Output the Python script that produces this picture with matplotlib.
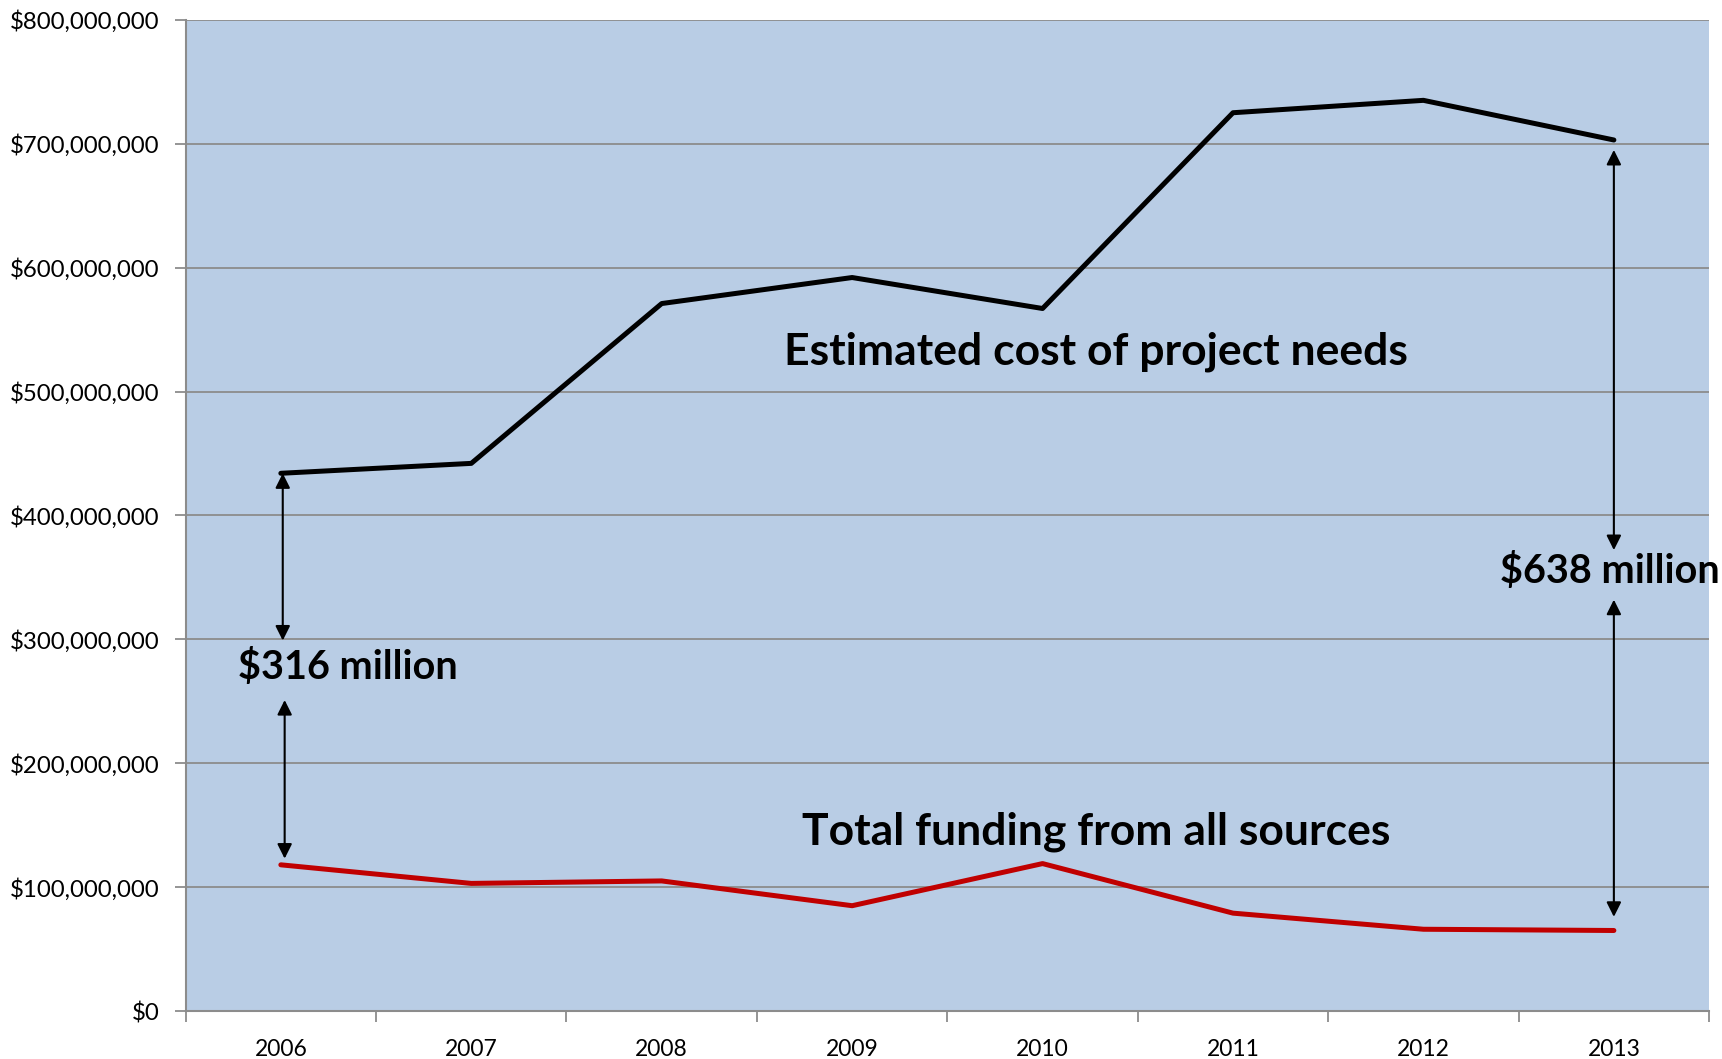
import matplotlib
matplotlib.use("Agg")
import matplotlib.pyplot as plt
from matplotlib.ticker import FuncFormatter

years = ["2006", "2007", "2008", "2009", "2010", "2011", "2012", "2013"]
project_needs = [434e6, 442e6, 571e6, 592e6, 567e6, 725e6, 735e6, 703e6]
total_funding = [118e6, 103e6, 105e6, 85e6, 119e6, 79e6, 66e6, 65e6]
y_ticks = [0, 100e6, 200e6, 300e6, 400e6, 500e6, 600e6, 700e6, 800e6]

plt.rcParams['font.family'] = ['Lato', 'DejaVu Sans']

fig = plt.figure(figsize=(17.22, 10.59), dpi=100)
ax = fig.add_axes([0.1078, 0.0453, 0.8847, 0.936])
ax.set_facecolor("#B9CDE5")

x = list(range(len(years)))
ax.plot(x, project_needs, color="black", lw=3.6, solid_capstyle="round", zorder=3)
ax.plot(x, total_funding, color="#C00000", lw=3.6, solid_capstyle="round", zorder=3)

ax.set_xlim(-0.5, 7.5)
ax.set_ylim(0, 800e6)
ax.set_yticks(y_ticks)
ax.yaxis.set_major_formatter(FuncFormatter(lambda v, p: "${:,.0f}".format(v)))
ax.grid(axis="y", color="#8C8C8C", lw=1.3, zorder=1)
ax.set_axisbelow(True)

ax.set_xticks([i - 0.5 for i in range(len(years) + 1)])
ax.set_xticklabels([])
ax.set_xticks(x, minor=True)
ax.set_xticklabels(years, minor=True)
ax.tick_params(axis="x", which="minor", length=0, pad=20, labelsize=16.5)
ax.tick_params(axis="x", which="major", length=8, width=1.3, color="#8C8C8C")
ax.tick_params(axis="y", length=8, width=1.3, color="#8C8C8C", pad=11, labelsize=17.3)

for s in ["top", "right"]:
    ax.spines[s].set_visible(False)
for s in ["left", "bottom"]:
    ax.spines[s].set_color("#8C8C8C")
    ax.spines[s].set_linewidth(1.5)

arrow = dict(arrowstyle="<|-|>", color="black", lw=1.5, mutation_scale=22, shrinkA=0, shrinkB=0)
ax.annotate("", xy=(0.01, 434e6), xytext=(0.01, 299e6), arrowprops=arrow, zorder=4)
ax.annotate("", xy=(0.02, 251e6), xytext=(0.02, 123e6), arrowprops=arrow, zorder=4)
ax.annotate("", xy=(7.0, 695e6), xytext=(7.0, 372e6), arrowprops=arrow, zorder=4)
ax.annotate("", xy=(7.0, 332e6), xytext=(7.0, 76e6), arrowprops=arrow, zorder=4)

tkw = dict(fontweight="bold", ha="center", va="center", zorder=5)
ax.text(0.35, 278e6, "$316 million", fontsize=28.5, **tkw)
ax.text(6.98, 355e6, "$638 million", fontsize=28.5, clip_on=False, **tkw)
ax.text(4.28, 532e6, "Estimated cost of project needs", fontsize=32, **tkw)
ax.text(4.28, 145e6, "Total funding from all sources", fontsize=32, **tkw)

fig.savefig("out.png", dpi=100)
